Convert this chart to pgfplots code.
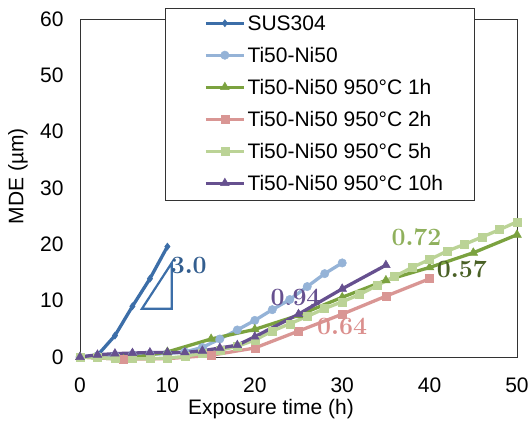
\documentclass[border=0pt]{standalone}
\usepackage{pgfplots}
\pgfplotsset{compat=1.18}
\usepackage{fontspec}
\setmainfont{Liberation Sans}

\definecolor{cSUS}{HTML}{3C6EA8}
\definecolor{cTiNi}{HTML}{95B3D7}
\definecolor{cOneH}{HTML}{7BA23F}
\definecolor{cTwoH}{HTML}{D99694}
\definecolor{cFiveH}{HTML}{BBD396}
\definecolor{cTenH}{HTML}{66508F}

\newcommand{\slopefont}{\fontsize{23}{25}\selectfont\boldmath}

\begin{document}
\begin{tikzpicture}[x=1pt,y=1pt]
\path[use as bounding box] (0,0) rectangle (530,424);
% plot frame and legend frame
\draw[black!80, line width=0.8pt] (80,67) rectangle (517,405);
\draw[black!80, line width=0.8pt, fill=white] (165,224) rectangle (474,416);
\begin{axis}[
  at={(80pt,67pt)}, anchor=south west,
  scale only axis, width=437pt, height=338pt,
  xmin=0, xmax=50, ymin=0, ymax=60,
  xtick={0,10,...,50}, ytick={0,10,...,60},
  major tick length=0pt,
  clip=false,
  axis line style={draw=none},
  tick label style={font=\fontsize{21}{24}\selectfont},
  /pgf/number format/assume math mode=true,
  yticklabel style={xshift=-13pt},
  xticklabel style={yshift=-17pt},
  label style={font=\fontsize{21}{24}\selectfont},
  xlabel={Exposure time (h)},
  ylabel={MDE (µm)},
  xlabel style={at={(axis description cs:0.437,-0.154)}, anchor=center},
  ylabel style={at={(axis description cs:-0.142,0.535)}, anchor=center},
  legend cell align=left,
  legend image code/.code={\draw[mark repeat=2,mark phase=2,#1] plot coordinates {(0pt,0pt) (19pt,0pt) (38pt,0pt)};},
  legend style={
    at={(axis description cs:0.2838,1.0237)}, anchor=north west,
    fill=none, draw=none,
    font=\fontsize{21}{24}\selectfont,
    inner xsep=0pt, inner ysep=0pt, row sep=8pt,
    nodes={inner sep=2pt, text height=17pt, text depth=3pt},
  },
  every axis plot/.append style={line width=3.3pt},
]
% SUS304
\addplot[cSUS, mark=diamond*, mark size=3.6pt, mark options={line width=0.5pt}] coordinates {
  (0,0) (2,0.3) (4,3.8) (6,9.0) (8,13.9) (10,19.6)};
\addlegendentry{SUS304}
% Ti50-Ni50 as received
\addplot[cTiNi, mark=*, mark size=4.2pt, mark options={line width=0.5pt}] coordinates {
  (0,0) (2,0.2) (4,0.3) (6,0.4) (8,0.5) (10,0.6) (12,0.9) (14,1.7) (16,3.2)
  (18,4.8) (20,6.5) (22,8.4) (24,10.2) (26,12.5) (28,14.8) (30,16.7)};
\addlegendentry{Ti50-Ni50}
% 950 C, 1 h
\addplot[cOneH, mark=triangle*, mark size=5pt, mark options={line width=0.5pt}] coordinates {
  (0,0) (5,-0.4) (10,0.9) (15,3.2) (20,4.9) (25,7.4) (30,10.6) (35,13.6)
  (40,15.9) (45,18.5) (50,21.7)};
\addlegendentry{Ti50-Ni50 950°C 1h}
% 950 C, 2 h
\addplot[cTwoH, mark=square*, mark size=4pt, mark options={line width=0.5pt}] coordinates {
  (0,0) (5,-0.4) (10,-0.3) (15,0.3) (20,1.6) (25,4.6) (30,7.6) (35,10.8) (40,13.9)};
\addlegendentry{Ti50-Ni50 950°C 2h}
% 950 C, 5 h
\addplot[cFiveH, mark=square*, mark size=4pt, mark options={line width=0.5pt}] coordinates {
  (0,0) (2,-0.1) (4,-0.3) (6,-0.3) (8,-0.3) (10,-0.2) (12,0.1) (14,0.7) (16,1.2)
  (18,1.9) (20,3.0) (22,4.6) (24,5.9) (26,7.2) (28,8.6) (30,9.8) (32,11.1)
  (34,12.7) (36,14.3) (38,15.9) (40,17.3) (42,18.8) (44,20.0) (46,21.3)
  (48,22.6) (50,24.0)};
\addlegendentry{Ti50-Ni50 950°C 5h}
% 950 C, 10 h
\addplot[cTenH, mark=triangle*, mark size=5pt, mark options={line width=0.5pt}] coordinates {
  (0,0) (2,0.4) (4,0.6) (6,0.7) (8,0.8) (10,0.8) (12,0.8) (14,1.1) (16,1.6)
  (18,2.1) (20,3.6) (25,7.6) (30,12.1) (35,16.3)};
\addlegendentry{Ti50-Ni50 950°C 10h}

% slope triangle and rate labels
\draw[cSUS, line width=2.2pt, line join=miter] (axis cs:7.08,8.55) -- (axis cs:10.5,8.55) -- (axis cs:10.5,16.7) -- cycle;
\node[text=cSUS!85!black, font=\slopefont] at (axis cs:12.44,16.2) {$3.0$};
\node[text=cTenH, font=\slopefont] at (axis cs:24.66,10.5) {$0.94$};
\node[text=cTwoH!95!red, font=\slopefont] at (axis cs:30.0,5.5) {$0.64$};
\node[text=cOneH!85!white, font=\slopefont] at (axis cs:38.5,21.2) {$0.72$};
\node[text=cOneH!60!black, font=\slopefont] at (axis cs:43.7,15.5) {$0.57$};
\end{axis}
\end{tikzpicture}
\end{document}
